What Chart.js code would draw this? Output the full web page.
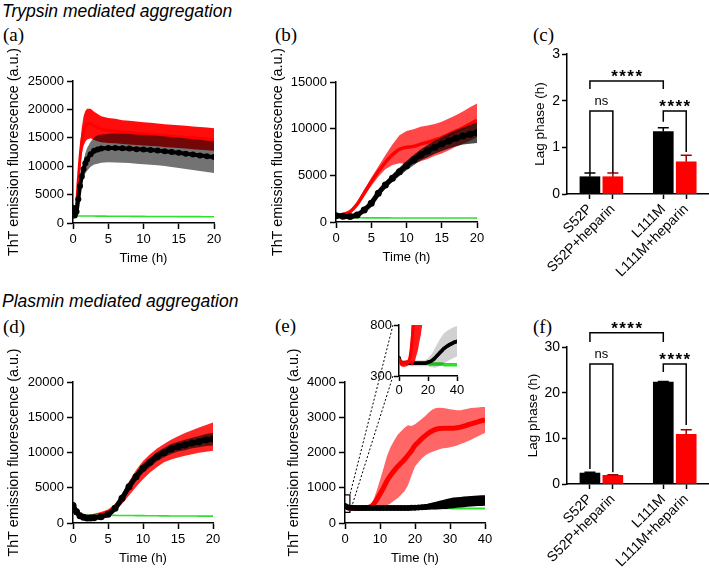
<!DOCTYPE html>
<html><head><meta charset="utf-8">
<script src="https://cdn.jsdelivr.net/npm/chart.js@4.4.1/dist/chart.umd.min.js"></script>
<style>
html,body{margin:0;padding:0;background:#fff;}
body{width:709px;height:568px;position:relative;overflow:hidden;font-family:'Liberation Sans',Arial,sans-serif;}
canvas{position:absolute;}
.t{position:absolute;white-space:nowrap;line-height:1;color:#000;}
.h{font-style:italic;font-size:17.5px;}
.p{font-family:'Liberation Serif','Times New Roman',serif;font-size:19px;}
</style></head><body>
<div class="t h" style="left:2px;top:3px">Trypsin mediated aggregation</div>
<div class="t h" style="left:2px;top:293px">Plasmin mediated aggregation</div>
<div class="t p" style="left:3px;top:25px">(a)</div>
<div class="t p" style="left:275px;top:25px">(b)</div>
<div class="t p" style="left:533px;top:25px">(c)</div>
<div class="t p" style="left:3px;top:317px">(d)</div>
<div class="t p" style="left:275px;top:316px">(e)</div>
<div class="t p" style="left:533px;top:317px">(f)</div>

<canvas id="cA" width="224" height="224" style="left:2px;top:46px"></canvas>
<canvas id="cB" width="223" height="222" style="left:266px;top:47px"></canvas>
<canvas id="cC" width="181" height="244" style="left:528px;top:40px"></canvas>
<canvas id="cD" width="223" height="223" style="left:2px;top:347px"></canvas>
<canvas id="ov" width="709" height="568" style="left:0;top:0;z-index:1"></canvas>
<canvas id="cE" width="215" height="223" style="left:282px;top:347px;z-index:2"></canvas>
<canvas id="cI" width="107" height="84" style="left:360px;top:314px;z-index:3"></canvas>
<canvas id="cF" width="188" height="268" style="left:521px;top:300px"></canvas>

<script>
// ---------------- DATA ----------------
// (a) Trypsin, no heparin / heparin / control
const timeA = [0,0.25,0.5,0.75,1,1.25,1.5,1.75,2,2.5,3,3.5,4,5,6,7,8,9,10,11,12,13,14,15,16,17,18,19,20];
const blackA = [2700,1300,2000,4200,6500,8200,9500,10500,11200,12100,12700,12950,13100,13200,13200,13150,13100,13000,12950,12850,12750,12650,12500,12350,12200,12050,11900,11750,11600];
const blackErrA = [300,300,400,600,900,1200,1500,1800,2000,2200,2400,2500,2500,2500,2550,2550,2550,2550,2600,2600,2600,2600,2650,2650,2700,2700,2750,2750,2800];
const redA = [1800,1500,3200,7500,11500,14500,16200,17000,17400,17500,17100,16800,16500,16300,16200,16000,15900,15800,15700,15600,15500,15400,15300,15200,15100,15000,14900,14800,14700];
const redErrA = [300,400,700,1200,1800,2300,2600,2700,2700,2600,2500,2400,2300,2200,2150,2100,2100,2050,2050,2050,2000,2000,2000,2000,2000,2000,2000,2000,2000];
const greenA = [1300,1250,1230,1230,1230,1230,1230,1225,1225,1220,1220,1215,1210,1200,1195,1190,1180,1170,1160,1150,1145,1140,1135,1130,1125,1120,1115,1110,1105];

// (b)
const timeB = [0,1,2,3,4,5,6,7,8,9,10,11,12,13,14,15,16,17,18,19,20];
const blackB = [680,620,580,750,1290,2000,3070,3960,4680,5390,6040,6640,7180,7600,8000,8360,8680,8960,9210,9390,9570];
const blackErrB = [80,80,80,100,150,200,300,350,400,450,500,550,600,650,700,750,800,850,900,1000,1100];
const redB = [700,800,1100,1900,3100,4300,5400,6400,7200,7800,8000,8100,8350,8550,8800,9050,9400,9750,10100,10500,10900];
const redErrB = [80,100,150,250,350,450,550,750,1100,1500,1750,1850,1850,1800,1700,1700,1700,1700,1750,1800,1800];
const greenB = [470,460,455,450,445,440,440,438,436,434,432,430,430,428,427,426,425,424,423,422,420];

// (c) lag phase, trypsin
const lagCats = ['S52P','S52P+heparin','L111M','L111M+heparin'];
const lagTrypsin = [0.37,0.37,1.34,0.69];
const lagTrypsinErr = [0.08,0.08,0.08,0.14];
const sigTrypsin = [
  {from:0,to:2,h:2.42,legA:2.25,legB:2.25,label:'****'},
  {from:0,to:1,h:1.78,legA:0.45,legB:0.45,label:'ns'},
  {from:2,to:3,h:1.78,legA:1.55,legB:0.9,label:'****'}
];

// (d) Plasmin
const timeD = [0,0.5,1,1.5,2,2.5,3,4,5,6,7,8,9,10,11,12,13,14,15,16,17,18,19,20];
const blackD = [2500,1600,1040,800,710,700,760,900,1230,2080,3500,5150,6570,7750,8600,9410,9980,10500,10830,11060,11350,11540,11770,11910];
const blackErrD = [150,120,100,100,100,100,100,120,150,250,400,500,600,650,650,650,650,700,700,750,750,800,850,900];
const redD = [2300,1500,1100,950,900,920,1000,1200,1500,2200,3400,4900,6300,7500,8450,9250,9900,10400,10800,11150,11450,11750,12000,12250];
const redErrD = [200,200,200,200,250,300,300,350,400,500,700,1000,1200,1300,1300,1300,1300,1400,1500,1600,1700,1800,1900,2000];
const greenD = [1300,1200,1150,1100,1100,1100,1100,1100,1100,1080,1070,1060,1050,1040,1030,1020,1010,1000,1000,990,990,980,980,980];

// (e)
const timeE = [0,1,2,3,4,5,6,7,8,9,10,11,12,13,14,15,16,17,18,19,20,21,22,23,24,25,26,27,28,29,30,31,32,33,34,35,36,37,38,39,40];
const redE = [470,430,420,420,420,425,430,450,520,650,820,1000,1200,1350,1480,1600,1700,1800,1920,2050,2200,2300,2400,2480,2560,2620,2660,2680,2690,2690,2690,2690,2700,2720,2750,2780,2810,2840,2870,2900,2920];
const redErrE = [30,30,30,30,30,30,30,30,100,250,400,550,700,800,850,900,900,900,850,700,600,580,560,560,580,600,600,590,570,560,540,520,500,480,470,460,450,430,410,390,370];
const blackE = [480,440,430,425,425,425,425,425,425,425,425,425,425,425,425,425,425,425,425,430,435,440,445,455,465,480,495,510,525,540,555,570,580,590,600,608,615,622,630,635,640];
const blackErrE = [30,30,30,30,30,30,30,30,30,30,30,30,30,30,30,30,30,30,30,35,40,50,60,70,85,100,110,120,130,140,145,150,150,150,150,150,150,150,150,150,150];
const greenE = [430,430,430,430,430,430,430,430,430,430,430,425,425,425,425,425,425,425,425,425,425,418,418,418,418,418,418,418,418,418,418,410,410,410,410,410,410,410,410,410,410];
const greenErrE = [18,18,18,18,18,18,18,18,18,18,18,18,18,18,18,18,18,18,18,18,18,18,18,18,18,18,18,18,18,18,18,18,18,18,18,18,18,18,18,18,18];
const insetWindowEnd = 1.4;

// (f) lag phase, plasmin
const lagPlasmin = [2.4,1.9,22.3,10.9];
const lagPlasminErr = [0.15,0.1,0.15,1.0];
const sigPlasmin = [
  {from:0,to:2,h:33.1,legA:31.1,legB:31.1,label:'****'},
  {from:0,to:1,h:26.3,legA:3.3,legB:2.6,label:'ns'},
  {from:2,to:3,h:26.3,legA:24.5,legB:12.9,label:'****'}
];

// ---------------- RENDER ----------------
Chart.defaults.font.family = "'Liberation Sans', Arial, sans-serif";
Chart.defaults.font.size = 13;
Chart.defaults.color = '#000';
Chart.defaults.animation = false;
Chart.defaults.plugins.legend.display = false;
Chart.defaults.plugins.tooltip.enabled = false;

const RED = '#ff0000', BLACK = '#000000', GREEN = '#2fe02f';

function pts(times, vals, off, sign) {
  return times.map((t, i) => ({x: t, y: vals[i] + (off ? sign * off[i] : 0)}));
}
function bandSets(times, mean, err, color, order) {
  return [
    {data: pts(times, mean, err, 1), fill: '+1', backgroundColor: color, borderColor: 'rgba(0,0,0,0)', borderWidth: 0, pointRadius: 0, order: order},
    {data: pts(times, mean, err, -1), fill: false, borderColor: 'rgba(0,0,0,0)', borderWidth: 0, pointRadius: 0, order: order}
  ];
}
function lineSet(times, vals, color, width, radius, order) {
  return {data: pts(times, vals), borderColor: color, backgroundColor: color, borderWidth: width,
          pointRadius: radius, pointBorderWidth: 0, fill: false, order: order, tension: 0.3};
}
const axisCommon = () => ({
  grid: {display: true, drawOnChartArea: false, drawTicks: true, tickLength: 6, tickColor: '#000', tickWidth: 1.5, offset: false},
  border: {display: true, color: '#000', width: 1.5}
});
function lineScales(xmax, xstep, ymin, ymax, ystep, yw, xh, yTitle, xTitle, tickLen) {
  const x = Object.assign(axisCommon(), {
    type: 'linear', min: 0, max: xmax, offset: false,
    ticks: {stepSize: xstep, maxRotation: 0, padding: tickLen ? 2 : 3, font: {size: 13}, callback: v => String(v)},
    title: {display: !!xTitle, text: xTitle || '', font: {size: 13}, padding: {top: 0, bottom: 4}},
    afterFit: s => { s.height = xh; }
  });
  const y = Object.assign(axisCommon(), {
    type: 'linear', min: ymin, max: ymax,
    ticks: {stepSize: ystep, padding: tickLen ? 2 : 3, font: {size: 13}, callback: v => String(v)},
    title: {display: !!yTitle, text: yTitle || '', font: {size: 14.3}, padding: {top: 3.6, bottom: 4}},
    afterFit: s => { s.width = yw; }
  });
  if (tickLen) { x.grid.tickLength = tickLen; y.grid.tickLength = tickLen; }
  return {x, y};
}
function makeLine(id, datasets, scales, pad, clip) {
  datasets.forEach(d => { if (clip !== undefined) d.clip = clip; });
  return new Chart(document.getElementById(id), {
    type: 'line',
    data: {datasets},
    options: {responsive: false, devicePixelRatio: 1, layout: {padding: pad}, scales,
              plugins: {filler: {propagate: false}}}
  });
}
const YT = 'ThT emission fluorescence (a.u.)';
const PAD = {top: 35, right: 12, left: 0, bottom: 0};

// (a)
makeLine('cA', [
  lineSet(timeA, blackA, BLACK, 4, 3, 0),
  ...bandSets(timeA, blackA, blackErrA, 'rgba(0,0,0,0.55)', 1),
  lineSet(timeA, greenA, GREEN, 1.6, 0, 2),
  lineSet(timeA, redA, RED, 3, 0, 3),
  ...bandSets(timeA, redA, redErrA, 'rgba(255,0,0,0.95)', 4)
], lineScales(20, 5, 0, 25000, 5000, 71, 47, YT, 'Time (h)'), PAD);

// (b)
makeLine('cB', [
  lineSet(timeB, blackB, BLACK, 5, 3.5, 0),
  ...bandSets(timeB, blackB, blackErrB, 'rgba(0,0,0,0.7)', 1),
  lineSet(timeB, greenB, GREEN, 1.6, 0, 2),
  lineSet(timeB, redB, RED, 3.5, 0, 3),
  ...bandSets(timeB, redB, redErrB, 'rgba(255,0,0,0.72)', 4)
], lineScales(20, 5, 0, 15000, 5000, 70, 47, YT, 'Time (h)'), PAD);

// (d)
makeLine('cD', [
  lineSet(timeD, blackD, BLACK, 5, 3.5, 0),
  ...bandSets(timeD, blackD, blackErrD, 'rgba(0,0,0,0.6)', 1),
  lineSet(timeD, greenD, GREEN, 1.6, 0, 2),
  lineSet(timeD, redD, RED, 3.5, 0, 3),
  ...bandSets(timeD, redD, redErrD, 'rgba(255,0,0,0.85)', 4)
], lineScales(20, 5, 0, 20000, 5000, 71, 47, YT, 'Time (h)'), PAD);

// (e) main
const chartE = makeLine('cE', [
  lineSet(timeE, blackE, BLACK, 5, 3, 0),
  ...bandSets(timeE, blackE, blackErrE, '#000000', 1),
  lineSet(timeE, greenE, GREEN, 2, 0, 2),
  lineSet(timeE, redE, RED, 5, 0, 3),
  ...bandSets(timeE, redE, redErrE, 'rgba(255,0,0,0.6)', 4)
], lineScales(40, 10, 0, 4000, 1000, 63, 47, YT, 'Time (h)'), PAD);

// (e) inset (same data, zoomed on 300-800)
const chartI = makeLine('cI', [
  lineSet(timeE, redE, RED, 3, 0, 0),
  ...bandSets(timeE, redE, redErrE, 'rgba(255,0,0,0.9)', 1),
  lineSet(timeE, blackE, BLACK, 3.5, 1.8, 2),
  ...bandSets(timeE, blackE, blackErrE, 'rgba(0,0,0,0.18)', 3),
  lineSet(timeE, greenE, GREEN, 1.5, 0, 4),
  ...bandSets(timeE, greenE, greenErrE, 'rgba(20,225,20,0.95)', 5)
], lineScales(40, 20, 300, 800, 500, 39, 22, '', '', 5), {top: 11, right: 10, left: 0, bottom: 0}, 0);

// zoom connector lines for the inset
(function () {
  const ov = document.getElementById('ov'), ctx = ov.getContext('2d');
  const cE = document.getElementById('cE'), cI = document.getElementById('cI');
  const mx = t => cE.offsetLeft + chartE.scales.x.getPixelForValue(t);
  const my = v => cE.offsetTop + chartE.scales.y.getPixelForValue(v);
  const iy = v => cI.offsetTop + chartI.scales.y.getPixelForValue(v);
  const ix0 = cI.offsetLeft + chartI.chartArea.left - 6;
  const lo = chartI.scales.y.min, hi = chartI.scales.y.max;
  ctx.strokeStyle = '#000'; ctx.lineWidth = 1;
  ctx.setLineDash([2, 2]);
  ctx.beginPath(); ctx.moveTo(ix0, iy(hi)); ctx.lineTo(mx(insetWindowEnd), my(hi)); ctx.stroke();
  ctx.beginPath(); ctx.moveTo(ix0, iy(lo)); ctx.lineTo(mx(insetWindowEnd), my(lo)); ctx.stroke();
  ctx.setLineDash([]);
  ctx.lineWidth = 1.2;
  ctx.beginPath(); ctx.moveTo(mx(0), my(hi)); ctx.lineTo(mx(insetWindowEnd), my(hi)); ctx.lineTo(mx(insetWindowEnd), my(lo)); ctx.lineTo(mx(0), my(lo)); ctx.stroke();
})();

// ---------------- bar charts ----------------
const barColors = [BLACK, RED, BLACK, RED];
const errColors = ['#000000', '#a00000', '#000000', '#a00000'];
const xPos = lagCats.map((c, i) => i < 2 ? 1 + i : 2.2 + i);

function barAnno(vals, errs, sigs) {
  return {
    id: 'barAnno',
    afterDatasetsDraw(chart) {
      const ctx = chart.ctx, xs = chart.scales.x, ys = chart.scales.y;
      ctx.save();
      ctx.lineWidth = 1.5;
      vals.forEach((v, i) => {
        const x = xs.getPixelForValue(xPos[i]);
        const y0 = ys.getPixelForValue(v), y1 = ys.getPixelForValue(v + errs[i]);
        ctx.strokeStyle = errColors[i];
        ctx.beginPath(); ctx.moveTo(x, y0); ctx.lineTo(x, y1);
        ctx.moveTo(x - 5.5, y1); ctx.lineTo(x + 5.5, y1); ctx.stroke();
      });
      ctx.strokeStyle = '#000'; ctx.fillStyle = '#000';
      sigs.forEach(s => {
        const xa = xs.getPixelForValue(xPos[s.from]), xb = xs.getPixelForValue(xPos[s.to]);
        const yh = ys.getPixelForValue(s.h);
        ctx.beginPath();
        ctx.moveTo(xa, ys.getPixelForValue(s.legA)); ctx.lineTo(xa, yh);
        ctx.lineTo(xb, yh); ctx.lineTo(xb, ys.getPixelForValue(s.legB));
        ctx.stroke();
        ctx.textAlign = 'center'; ctx.textBaseline = 'alphabetic';
        if (s.label === 'ns') {
          ctx.font = "13px 'Liberation Sans', Arial, sans-serif";
          ctx.letterSpacing = '0px';
          ctx.fillText(s.label, (xa + xb) / 2, yh - 6);
        } else {
          ctx.font = "bold 17px 'Liberation Sans', Arial, sans-serif";
          ctx.letterSpacing = '1.5px';
          ctx.fillText(s.label, (xa + xb) / 2 + 0.75, yh + 1);
        }
      });
      ctx.restore();
    }
  };
}
function makeBar(id, vals, errs, sigs, ymax, ystep, yw, xh, pad) {
  const x = Object.assign(axisCommon(), {
    type: 'linear', min: 0, max: 6.15, offset: false,
    afterBuildTicks: s => { s.ticks = xPos.map(v => ({value: v})); },
    ticks: {autoSkip: false, minRotation: 45, maxRotation: 45, padding: 2, font: {size: 14},
            callback: (v, i) => lagCats[i]},
    afterFit: s => { s.height = xh; }
  });
  x.grid.tickLength = 5;
  const y = Object.assign(axisCommon(), {
    type: 'linear', min: 0, max: ymax,
    ticks: {stepSize: ystep, padding: 2, font: {size: 14}, callback: v => String(v)},
    title: {display: true, text: 'Lag phase (h)', font: {size: 13.5}, padding: {top: 4, bottom: 4}},
    afterFit: s => { s.width = yw; }
  });
  y.grid.tickLength = 5;
  return new Chart(document.getElementById(id), {
    type: 'bar',
    data: {datasets: [{data: vals.map((v, i) => ({x: xPos[i], y: v})), backgroundColor: barColors,
                       borderWidth: 0, barThickness: 20}]},
    options: {responsive: false, devicePixelRatio: 1, layout: {padding: pad}, scales: {x, y}},
    plugins: [barAnno(vals, errs, sigs)]
  });
}
makeBar('cC', lagTrypsin, lagTrypsinErr, sigTrypsin, 3, 1, 39, 90, {top: 14, right: 1, left: 0, bottom: 0});
makeBar('cF', lagPlasmin, lagPlasminErr, sigPlasmin, 30, 10, 46, 84, {top: 47, right: 1, left: 0, bottom: 0});
</script>
</body></html>
